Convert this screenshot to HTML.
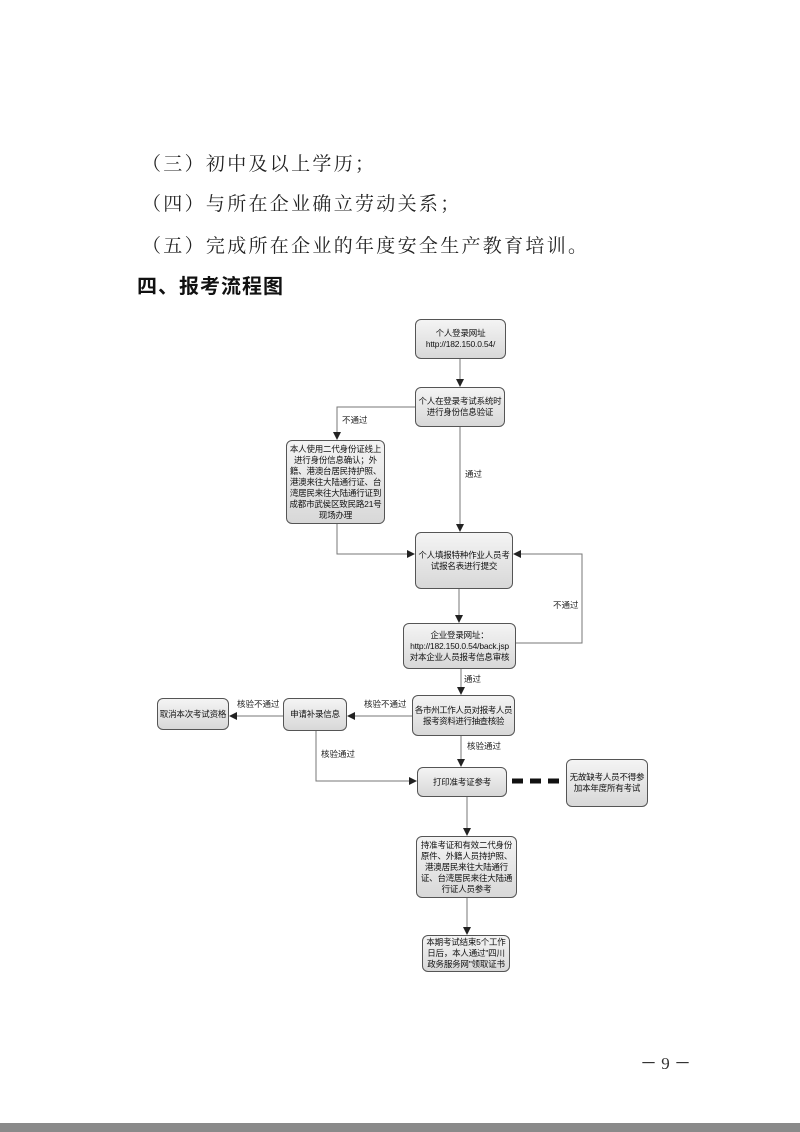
<!DOCTYPE html>
<html><head><meta charset="utf-8"><style>
body{margin:0;width:800px;height:1132px;background:#fff;position:relative;overflow:hidden;font-family:"Liberation Sans","Noto Sans CJK SC",sans-serif}
.t{position:absolute;left:142px;font-family:"Liberation Serif","Noto Serif CJK SC",serif;font-size:19px;letter-spacing:2.3px;color:#222;white-space:nowrap;line-height:20px}
.h{position:absolute;left:137px;top:270px;font-family:"Liberation Sans","Noto Sans CJK SC",sans-serif;font-weight:bold;font-size:20px;letter-spacing:1px;color:#111;white-space:nowrap}
.b{position:absolute;box-sizing:border-box;border:1px solid #555;border-radius:6px;background:linear-gradient(#f4f4f4,#d8d8d8);display:flex;align-items:center;justify-content:center;text-align:center;font-size:8.5px;line-height:11px;color:#111;letter-spacing:-0.2px;padding:0 1px}
.l{position:absolute;font-size:8.5px;color:#222;white-space:nowrap;line-height:10px}
</style></head><body>
<div class="t" style="top:155px">（三）初中及以上学历；</div>
<div class="t" style="top:195px">（四）与所在企业确立劳动关系；</div>
<div class="t" style="top:237px">（五）完成所在企业的年度安全生产教育培训。</div>
<div class="h">四、报考流程图</div>
<svg width="800" height="1132" style="position:absolute;left:0;top:0" fill="none" stroke="#777" stroke-width="1">
<defs><marker id="a" markerWidth="8" markerHeight="8" refX="7" refY="4" orient="auto" markerUnits="userSpaceOnUse"><path d="M0,0L8,4L0,8z" fill="#222" stroke="none"/></marker></defs>
<path d="M460,359V386" marker-end="url(#a)"/>
<path d="M415,407H337V439" marker-end="url(#a)"/>
<path d="M460,427V531" marker-end="url(#a)"/>
<path d="M337,524V554H414" marker-end="url(#a)"/>
<path d="M516,643H582V554H514" marker-end="url(#a)"/>
<path d="M459,589V622" marker-end="url(#a)"/>
<path d="M461,669V694" marker-end="url(#a)"/>
<path d="M412,716H348" marker-end="url(#a)"/>
<path d="M283,716H230" marker-end="url(#a)"/>
<path d="M316,731V781H416" marker-end="url(#a)"/>
<path d="M461,736V766" marker-end="url(#a)"/>
<path d="M467,797V835" marker-end="url(#a)"/>
<path d="M467,898V934" marker-end="url(#a)"/>
<path d="M512,781H560" stroke="#111" stroke-width="5" stroke-dasharray="11,7"/>
</svg>
<div class="b" style="left:415px;top:319px;width:91px;height:40px">个人登录网址<br>http://182.150.0.54/</div>
<div class="b" style="left:415px;top:387px;width:90px;height:40px">个人在登录考试系统时<br>进行身份信息验证</div>
<div class="b" style="left:286px;top:440px;width:99px;height:84px">本人使用二代身份证线上进行身份信息确认；外籍、港澳台居民持护照、港澳来往大陆通行证、台湾居民来往大陆通行证到成都市武侯区致民路21号现场办理</div>
<div class="b" style="left:415px;top:532px;width:98px;height:57px">个人填报特种作业人员考<br>试报名表进行提交</div>
<div class="b" style="left:403px;top:623px;width:113px;height:46px">企业登录网址：<br>http://182.150.0.54/back.jsp<br>对本企业人员报考信息审核</div>
<div class="b" style="left:412px;top:695px;width:103px;height:41px;padding:0;white-space:nowrap;letter-spacing:-0.4px">各市州工作人员对报考人员<br>报考资料进行抽查核验</div>
<div class="b" style="left:283px;top:698px;width:64px;height:33px">申请补录信息</div>
<div class="b" style="left:157px;top:698px;width:72px;height:32px">取消本次考试资格</div>
<div class="b" style="left:417px;top:767px;width:90px;height:30px">打印准考证参考</div>
<div class="b" style="left:566px;top:759px;width:82px;height:48px">无故缺考人员不得参<br>加本年度所有考试</div>
<div class="b" style="left:416px;top:836px;width:101px;height:62px">持准考证和有效二代身份原件、外籍人员持护照、港澳居民来往大陆通行证、台湾居民来往大陆通行证人员参考</div>
<div class="b" style="left:422px;top:935px;width:88px;height:37px">本期考试结束5个工作日后，本人通过"四川政务服务网"领取证书</div>
<div class="l" style="left:342px;top:415px">不通过</div>
<div class="l" style="left:465px;top:469px">通过</div>
<div class="l" style="left:553px;top:600px">不通过</div>
<div class="l" style="left:464px;top:674px">通过</div>
<div class="l" style="left:364px;top:699px">核验不通过</div>
<div class="l" style="left:237px;top:699px">核验不通过</div>
<div class="l" style="left:321px;top:749px">核验通过</div>
<div class="l" style="left:467px;top:741px">核验通过</div>
<div style="position:absolute;left:640px;top:1049px;font-family:'Liberation Serif',serif;font-size:17px;color:#333;white-space:nowrap">－ 9 －</div>
<div style="position:absolute;left:0;top:1123px;width:800px;height:9px;background:#8a8a8a"></div>
</body></html>
